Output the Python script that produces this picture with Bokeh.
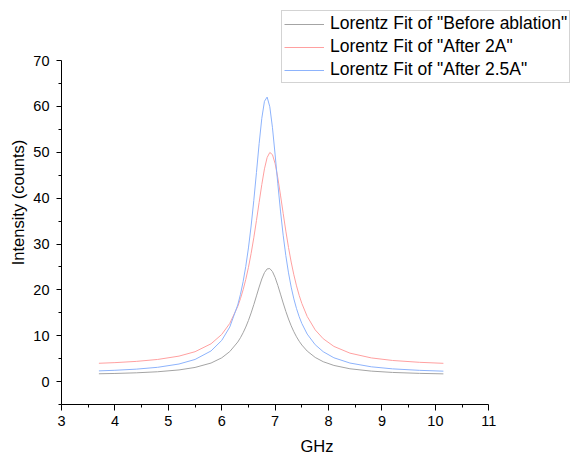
from bokeh.plotting import figure
from bokeh.models import FixedTicker, Range1d, Legend, LegendItem
from bokeh.embed import file_html
from bokeh.resources import INLINE

# Frequency (GHz) sample points
ghz = [3.7, 4.0, 4.4, 4.8, 5.2, 5.5, 5.8, 6.0, 6.15, 6.3, 6.35, 6.4, 6.45, 6.5,
       6.55, 6.6, 6.65, 6.7, 6.75, 6.8, 6.85, 6.9, 6.95, 7.0, 7.05, 7.1, 7.15,
       7.2, 7.25, 7.3, 7.35, 7.4, 7.45, 7.5, 7.6, 7.75, 7.9, 8.1, 8.4, 8.8, 9.2,
       9.7, 10.15]

before_ablation = [1.70, 1.77, 1.91, 2.14, 2.54, 3.08, 4.04, 5.18, 6.54, 8.62, 9.55,
                   10.64, 11.89, 13.33, 14.96, 16.76, 18.68, 20.60, 22.37, 23.76,
                   24.57, 24.64, 23.98, 22.69, 20.98, 19.07, 17.14, 15.31, 13.64,
                   12.16, 10.87, 9.76, 8.80, 7.97, 6.65, 5.26, 4.33, 3.52, 2.79,
                   2.28, 1.99, 1.79, 1.68]

after_2a = [3.99, 4.13, 4.40, 4.82, 5.55, 6.51, 8.24, 10.28, 12.68, 16.39, 18.06,
            20.00, 22.27, 24.90, 27.93, 31.35, 35.12, 39.08, 42.97, 46.39, 48.86,
            49.96, 49.48, 47.51, 44.42, 40.66, 36.69, 32.82, 29.25, 26.07, 23.28,
            20.87, 18.80, 17.03, 14.20, 11.27, 9.34, 7.67, 6.20, 5.16, 4.60, 4.20,
            3.98]

after_2_5a = [2.33, 2.46, 2.71, 3.11, 3.83, 4.82, 6.68, 8.98, 11.89, 16.71, 19.00,
              21.77, 25.12, 29.14, 33.93, 39.47, 45.61, 51.88, 57.41, 61.12, 62.04,
              59.92, 55.35, 49.41, 43.12, 37.18, 31.93, 27.45, 23.70, 20.60, 18.03,
              15.91, 14.14, 12.66, 10.36, 8.03, 6.51, 5.19, 4.04, 3.22, 2.77, 2.45,
              2.27]

series_labels = ['Lorentz Fit of "Before ablation"',
                 'Lorentz Fit of "After 2A"',
                 'Lorentz Fit of "After 2.5A"']

x_ticks = [3, 4, 5, 6, 7, 8, 9, 10, 11]
x_minor = [3.5, 4.5, 5.5, 6.5, 7.5, 8.5, 9.5, 10.5]
y_ticks = [0, 10, 20, 30, 40, 50, 60, 70]
y_minor = [-5, 5, 15, 25, 35, 45, 55, 65]
x_axis_span = (3, 11)
y_axis_span = (-5, 70)

FONT = "Liberation Sans"

# The frame is extended to the top/right so the legend (which overlaps the
# area above the axes) is not clipped; axis lines are bounded to 3..11 / -5..70.
p = figure(width=572, height=459, output_backend="svg", toolbar_location=None,
           x_range=Range1d(3, 12.567), y_range=Range1d(-5, 83.1),
           min_border_left=61, min_border_right=0, min_border_top=0,
           min_border_bottom=55)
p.outline_line_color = None
p.grid.visible = False
p.background_fill_color = "white"
p.border_fill_color = "white"

colors = ["#a4a4a4", "#ffa0a0", "#8db3fc"]
r1 = p.line(ghz, before_ablation, line_color=colors[0], line_width=1)
r2 = p.line(ghz, after_2a, line_color=colors[1], line_width=1)
r3 = p.line(ghz, after_2_5a, line_color=colors[2], line_width=1)

xa = p.xaxis[0]
xa.ticker = FixedTicker(ticks=x_ticks, minor_ticks=x_minor)
xa.bounds = x_axis_span
xa.axis_label = "GHz"
ya = p.yaxis[0]
ya.ticker = FixedTicker(ticks=y_ticks, minor_ticks=y_minor)
ya.bounds = y_axis_span
ya.axis_label = "Intensity (counts)"

for ax in (xa, ya):
    ax.axis_line_color = "black"
    ax.axis_line_width = 1
    ax.major_tick_line_color = "black"
    ax.minor_tick_line_color = "black"
    ax.major_tick_in = 0
    ax.minor_tick_in = 0
    ax.major_label_text_font = FONT
    ax.major_label_text_font_size = "14.5px"
    ax.major_label_text_color = "black"
    ax.axis_label_text_font = FONT
    ax.axis_label_text_font_size = "16.5px"
    ax.axis_label_text_font_style = "normal"
    ax.axis_label_text_color = "black"

xa.major_tick_out = 6
xa.minor_tick_out = 3
xa.major_label_standoff = 5
xa.axis_label_standoff = 8
ya.major_tick_out = 5
ya.minor_tick_out = 3
ya.major_label_standoff = 7
ya.axis_label_standoff = 3

legend = Legend(items=[LegendItem(label=series_labels[0], renderers=[r1]),
                       LegendItem(label=series_labels[1], renderers=[r2]),
                       LegendItem(label=series_labels[2], renderers=[r3])],
                location=(220, 321))
legend.margin = 0
legend.padding = 2
legend.spacing = 2
legend.label_height = 20
legend.glyph_height = 20
legend.glyph_width = 40
legend.label_standoff = 6
legend.label_text_font = FONT
legend.label_text_font_size = "17.5px"
legend.label_text_color = "black"
legend.border_line_color = "#a8a8a8"
legend.border_line_width = 1
legend.background_fill_color = "white"
legend.background_fill_alpha = 1
p.add_layout(legend)

open("out.html", "w").write(file_html(p, INLINE))
